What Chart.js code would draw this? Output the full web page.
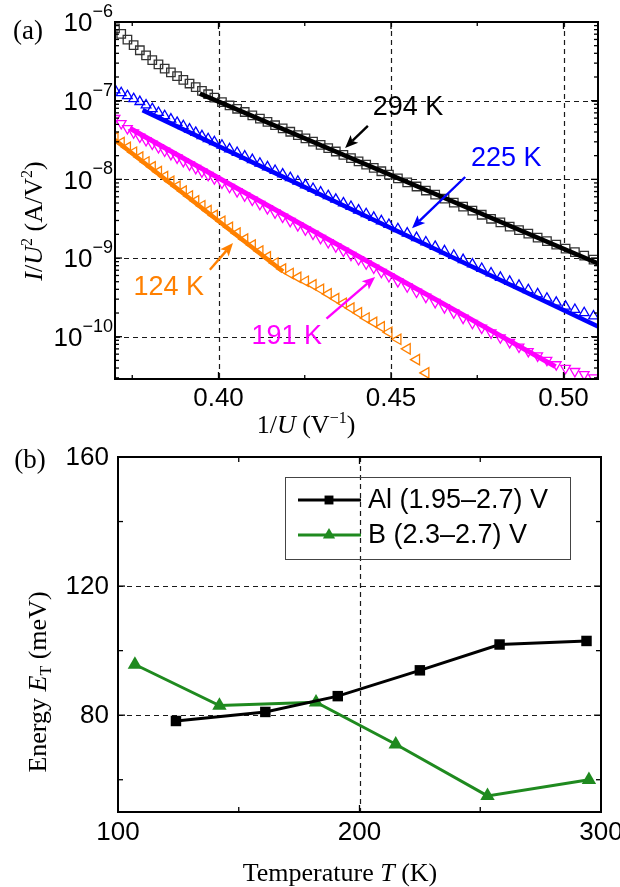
<!DOCTYPE html>
<html>
<head>
<meta charset="utf-8">
<script src="https://cdn.jsdelivr.net/npm/chart.js@4.4.1/dist/chart.umd.min.js"></script>
<style>
  html, body { margin: 0; padding: 0; background: #fff; }
  #wrap { position: relative; width: 620px; height: 887px; }
  canvas { position: absolute; left: 0; }
  #fnA { top: 0; }
  #fnB { top: 445px; }
</style>
</head>
<body>
<div id="wrap">
  <canvas id="fnA" width="620" height="445"></canvas>
  <canvas id="fnB" width="620" height="442"></canvas>
</div>
<script>
const SANS = '"Liberation Sans", Arial, sans-serif';
const SERIF = '"Liberation Serif", "Times New Roman", serif';

// 1/U (V^-1), shared by the four temperature sweeps
const invU = [
  0.3700, 0.3718, 0.3736, 0.3754, 0.3772, 0.3790, 0.3808, 0.3826, 0.3844, 0.3862, 0.3880, 0.3898, 0.3916, 0.3934, 0.3952, 0.3970, 0.3988,
  0.4010, 0.4032, 0.4054, 0.4076, 0.4098, 0.4120, 0.4142, 0.4164, 0.4186, 0.4208, 0.4230, 0.4252, 0.4274, 0.4296, 0.4318, 0.4340, 0.4362, 0.4384, 0.4406, 0.4428, 0.4450, 0.4472, 0.4494,
  0.4520, 0.4547, 0.4574, 0.4601, 0.4628, 0.4655, 0.4682, 0.4709, 0.4736, 0.4763, 0.4790, 0.4817, 0.4844, 0.4871, 0.4898, 0.4925, 0.4952, 0.4979, 0.5006, 0.5033, 0.5060, 0.5087
];
// log10(I/U^2), I/U^2 in A/V^2
const lg294 = [
  -6.080, -6.152, -6.224, -6.294, -6.359, -6.424, -6.484, -6.538, -6.592, -6.641, -6.688, -6.735, -6.782, -6.828, -6.875, -6.918, -6.961,
  -7.019, -7.061, -7.103, -7.144, -7.186, -7.228, -7.270, -7.312, -7.353, -7.395, -7.437, -7.479, -7.521, -7.562, -7.604, -7.646, -7.688, -7.730, -7.771, -7.813, -7.855, -7.897, -7.939,
  -7.988, -8.039, -8.091, -8.142, -8.193, -8.245, -8.296, -8.347, -8.398, -8.450, -8.501, -8.547, -8.600, -8.645, -8.690, -8.740, -8.785, -8.830, -8.880, -8.925, -8.970, -9.020
];
const lg225 = [
  -6.864, -6.901, -6.938, -6.976, -7.013, -7.056, -7.103, -7.151, -7.193, -7.236, -7.278, -7.320, -7.363, -7.405, -7.448, -7.485, -7.523,
  -7.568, -7.614, -7.660, -7.706, -7.751, -7.797, -7.843, -7.889, -7.934, -7.980, -8.026, -8.072, -8.118, -8.163, -8.209, -8.255, -8.301, -8.346, -8.392, -8.438, -8.484, -8.529, -8.575,
  -8.629, -8.685, -8.742, -8.798, -8.854, -8.910, -8.966, -9.022, -9.078, -9.135, -9.191, -9.247, -9.298, -9.349, -9.405, -9.457, -9.513, -9.564, -9.615, -9.656, -9.697, -9.739
];
const lg191 = [
  -7.224, -7.289, -7.353, -7.407, -7.461, -7.505, -7.550, -7.594, -7.638, -7.682, -7.726, -7.771, -7.815, -7.859, -7.903, -7.947, -7.991,
  -8.045, -8.099, -8.154, -8.208, -8.262, -8.316, -8.370, -8.424, -8.478, -8.532, -8.586, -8.640, -8.694, -8.748, -8.802, -8.856, -8.910, -8.964, -9.018, -9.072, -9.126, -9.180, -9.234,
  -9.298, -9.364, -9.430, -9.496, -9.563, -9.629, -9.695, -9.762, -9.828, -9.889, -9.950, -10.012, -10.071, -10.129, -10.186, -10.242, -10.298, -10.354, -10.400, -10.440, -10.480, -10.520
];
const lg124 = [
  -7.470, -7.532, -7.593, -7.655, -7.717, -7.779, -7.841, -7.902, -7.964, -8.026, -8.088, -8.149, -8.211, -8.273, -8.335, -8.397, -8.458,
  -8.533, -8.609, -8.684, -8.760, -8.835, -8.911, -8.986, -9.063, -9.140, -9.196, -9.246, -9.295, -9.342, -9.397, -9.456, -9.516, -9.575, -9.636, -9.697, -9.762, -9.818, -9.875, -9.943,
  -10.033, -10.154, -10.292, -10.460
];
// straight-line fits: end points (1/U, log10 I/U^2)
const fit294X = [0.3946, 0.5100], fit294Lg = [-6.91, -9.07];
const fit225X = [0.3780, 0.5100], fit225Lg = [-7.12, -9.87];
const fit191X = [0.3743, 0.4977], fit191Lg = [-7.35, -10.38];
const fit124X = [0.3700, 0.4187], fit124Lg = [-7.50, -9.17];

// trap energy vs temperature
const tempAl = [124, 161, 191, 225, 258, 294];
const energyAl = [78.2, 81.0, 85.9, 93.9, 101.9, 103.0];
const tempB = [107, 142, 182, 215, 253, 295];
const energyB = [95.7, 83.0, 84.0, 71.0, 55.0, 60.0];
const seriesNames = ['Al (1.95\u20132.7) V', 'B (2.3\u20132.7) V'];

const C294 = '#000000', C225 = '#0000ff', C191 = '#ff00ff', C124 = '#ff8000';
const GREEN = '#1f8a1f';

// temperature labels with arrows, placed in data units
const notes = [
  { text: '294 K', color: C294, at: [0.4549, -7.09], from: [0.4433, -7.32], to: [0.4367, -7.60] },
  { text: '225 K', color: C225, at: [0.4834, -7.74], from: [0.4715, -7.97], to: [0.4561, -8.62] },
  { text: '191 K', color: C191, at: [0.4198, -10.00], from: [0.4313, -9.77], to: [0.4454, -9.24] },
  { text: '124 K', color: C124, at: [0.3856, -9.37], from: [0.3975, -9.15], to: [0.4042, -8.81] }
];

const toPts = (xs, lgs) => lgs.map((v, i) => ({ x: xs[i], y: Math.pow(10, v) }));

// ---------- helpers ----------
function fontOf(s, size) {
  const sz = (s.sup || s.sub) ? Math.round(size * 0.62) : size;
  return (s.it ? 'italic ' : '') + sz + 'px ' + SERIF;
}
function drawRich(ctx, segs, cx, cy, size, angle) {
  ctx.save();
  ctx.translate(cx, cy);
  ctx.rotate(angle || 0);
  ctx.fillStyle = '#000';
  ctx.textAlign = 'left';
  ctx.textBaseline = 'alphabetic';
  let total = 0;
  for (const s of segs) { ctx.font = fontOf(s, size); total += ctx.measureText(s.t).width; }
  let x = -total / 2;
  for (const s of segs) {
    ctx.font = fontOf(s, size);
    const dy = s.sup ? -size * 0.36 : s.sub ? size * 0.2 : 0;
    ctx.fillText(s.t, x, size * 0.33 + dy);
    x += ctx.measureText(s.t).width;
  }
  ctx.restore();
}
function seg(ctx, x1, y1, x2, y2) {
  ctx.beginPath(); ctx.moveTo(x1, y1); ctx.lineTo(x2, y2); ctx.stroke();
}
function arrow(ctx, x1, y1, x2, y2, color) {
  const ang = Math.atan2(y2 - y1, x2 - x1), head = 13, half = 5.5;
  const bx = x2 - head * Math.cos(ang), by = y2 - head * Math.sin(ang);
  ctx.strokeStyle = color; ctx.fillStyle = color; ctx.lineWidth = 2.4;
  seg(ctx, x1, y1, bx + 3 * Math.cos(ang), by + 3 * Math.sin(ang));
  ctx.beginPath();
  ctx.moveTo(x2, y2);
  ctx.lineTo(bx - half * Math.sin(ang), by + half * Math.cos(ang));
  ctx.lineTo(bx + 3 * Math.cos(ang), by + 3 * Math.sin(ang));
  ctx.lineTo(bx + half * Math.sin(ang), by - half * Math.cos(ang));
  ctx.closePath();
  ctx.fill();
}
function dashed(ctx) {
  ctx.strokeStyle = '#1a1a1a'; ctx.lineWidth = 1.2; ctx.setLineDash([5, 4]);
}
function solid(ctx) {
  ctx.setLineDash([]); ctx.strokeStyle = '#000'; ctx.lineWidth = 1.3;
}

// ---------- panel (a) ----------
const frameA = {
  id: 'frameA',
  beforeDatasetsDraw(chart) {
    const { ctx, chartArea: a, scales: { x, y } } = chart;
    ctx.save();
    dashed(ctx);
    for (const v of [0.40, 0.45, 0.50]) {
      const px = Math.round(x.getPixelForValue(v)) + 0.5;
      seg(ctx, px, a.top, px, a.bottom);
    }
    for (let e = -10; e <= -7; e++) {
      const py = Math.round(y.getPixelForValue(Math.pow(10, e))) + 0.5;
      seg(ctx, a.left, py, a.right, py);
    }
    ctx.restore();
  },
  afterDatasetsDraw(chart) {
    const { ctx, chartArea: a, scales: { x, y } } = chart;
    ctx.save();
    solid(ctx);
    // ticks, pointing inward on all four sides
    for (const v of [0.375, 0.40, 0.425, 0.45, 0.475, 0.50]) {
      const px = x.getPixelForValue(v);
      const len = [0.40, 0.45, 0.50].includes(v) ? 7 : 4;
      seg(ctx, px, a.bottom, px, a.bottom - len);
      seg(ctx, px, a.top, px, a.top + len);
    }
    for (let e = -11; e <= -7; e++) {
      for (let m = 1; m <= 9; m++) {
        const v = m * Math.pow(10, e);
        if (v < y.min || v > y.max) continue;
        const py = y.getPixelForValue(v);
        const len = m === 1 ? 7 : 4;
        seg(ctx, a.left, py, a.left + len, py);
        seg(ctx, a.right, py, a.right - len, py);
      }
    }
    ctx.lineWidth = 2;
    ctx.strokeRect(a.left, a.top, a.width, a.height);

    // tick labels
    ctx.fillStyle = '#000';
    ctx.textBaseline = 'middle';
    ctx.textAlign = 'center';
    ctx.font = '26px ' + SANS;
    for (const v of [0.40, 0.45, 0.50]) {
      ctx.fillText(v.toFixed(2), x.getPixelForValue(v), a.bottom + 20);
    }
    ctx.textAlign = 'left';
    for (let e = -10; e <= -6; e++) {
      const py = y.getPixelForValue(Math.pow(10, e));
      const ex = '\u2212' + (-e);
      ctx.font = '18px ' + SANS;
      const wE = ctx.measureText(ex).width;
      ctx.font = '26px ' + SANS;
      const wB = ctx.measureText('10').width;
      const right = a.left - 2;
      ctx.fillText('10', right - wE - wB, py + 2);
      ctx.font = '18px ' + SANS;
      ctx.fillText(ex, right - wE, py - 10);
    }

    // axis titles
    drawRich(ctx, [{ t: '1/' }, { t: 'U', it: true }, { t: ' (V' }, { t: '\u22121', sup: true }, { t: ')' }],
      306, a.bottom + 45, 26, 0);
    drawRich(ctx, [{ t: 'I', it: true }, { t: '/' }, { t: 'U', it: true }, { t: '2', sup: true },
      { t: ' (A/V' }, { t: '2', sup: true }, { t: ')' }], 33, 221, 26, -Math.PI / 2);
    drawRich(ctx, [{ t: '(a)' }], 28, 30, 27, 0);

    // temperature labels
    ctx.font = '27px ' + SANS;
    ctx.textAlign = 'center';
    ctx.textBaseline = 'middle';
    for (const n of notes) {
      const px = (p) => [x.getPixelForValue(p[0]), y.getPixelForValue(Math.pow(10, p[1]))];
      const [tx, ty] = px(n.at), [fx, fy] = px(n.from), [hx, hy] = px(n.to);
      ctx.fillStyle = n.color;
      ctx.fillText(n.text, tx, ty);
      arrow(ctx, fx, fy, hx, hy, n.color);
    }
    ctx.restore();
  }
};

const markerSet = (lgs, color, style, rot, r) => ({
  data: toPts(invU, lgs),
  showLine: false,
  pointStyle: style,
  pointRotation: rot,
  pointRadius: r,
  pointBorderWidth: 1.3,
  pointBorderColor: color,
  pointBackgroundColor: 'rgba(0,0,0,0)',
  order: 2
});
const fitSet = (xs, lgs, color, w) => ({
  data: toPts(xs, lgs),
  showLine: true,
  borderColor: color,
  borderWidth: w,
  pointRadius: 0,
  order: 1
});

new Chart(document.getElementById('fnA'), {
  type: 'scatter',
  data: {
    datasets: [
      markerSet(lg294, '#333', 'rect', 0, 6),
      markerSet(lg225, C225, 'triangle', 0, 5.6),
      markerSet(lg191, C191, 'triangle', 180, 5.6),
      markerSet(lg124, C124, 'triangle', -90, 6),
      fitSet(fit294X, fit294Lg, C294, 4.5),
      fitSet(fit225X, fit225Lg, C225, 4.5),
      fitSet(fit191X, fit191Lg, C191, 5),
      fitSet(fit124X, fit124Lg, C124, 4.5)
    ]
  },
  options: {
    responsive: false,
    animation: false,
    events: [],
    layout: { padding: { top: 22, right: 22, left: 0, bottom: 0 } },
    plugins: { legend: { display: false }, tooltip: { enabled: false } },
    scales: {
      x: {
        type: 'linear', min: 0.37, max: 0.51,
        ticks: { display: false }, grid: { display: false }, border: { display: false },
        afterFit: (s) => { s.height = 66; }
      },
      y: {
        type: 'logarithmic', min: 2.9e-11, max: 1e-6,
        ticks: { display: false }, grid: { display: false }, border: { display: false },
        afterFit: (s) => { s.width = 115; }
      }
    }
  },
  plugins: [frameA]
});

// ---------- panel (b) ----------
const frameB = {
  id: 'frameB',
  beforeDatasetsDraw(chart) {
    const { ctx, chartArea: a, scales: { x, y } } = chart;
    ctx.save();
    dashed(ctx);
    const px = Math.round(x.getPixelForValue(200)) + 0.5;
    seg(ctx, px, a.top, px, a.bottom);
    for (const v of [80, 120]) {
      const py = Math.round(y.getPixelForValue(v)) + 0.5;
      seg(ctx, a.left, py, a.right, py);
    }
    ctx.restore();
  },
  afterDatasetsDraw(chart) {
    const { ctx, chartArea: a, scales: { x, y } } = chart;
    const sets = chart.data.datasets;
    ctx.save();
    solid(ctx);
    for (const v of [150, 200, 250]) {
      const px = x.getPixelForValue(v);
      const len = v === 200 ? 7 : 5;
      seg(ctx, px, a.bottom, px, a.bottom - len);
      seg(ctx, px, a.top, px, a.top + len);
    }
    for (const v of [60, 80, 100, 120, 140]) {
      const py = y.getPixelForValue(v);
      const len = v % 40 === 0 ? 7 : 5;
      seg(ctx, a.left, py, a.left + len, py);
      seg(ctx, a.right, py, a.right - len, py);
    }
    ctx.lineWidth = 2;
    ctx.strokeRect(a.left, a.top, a.width, a.height);

    ctx.fillStyle = '#000';
    ctx.font = '26px ' + SANS;
    ctx.textBaseline = 'middle';
    ctx.textAlign = 'center';
    for (const v of [100, 200, 300]) ctx.fillText(String(v), x.getPixelForValue(v), a.bottom + 21);
    ctx.textAlign = 'right';
    for (const v of [80, 120, 160]) ctx.fillText(String(v), a.left - 9, y.getPixelForValue(v) + 1);

    drawRich(ctx, [{ t: 'Temperature ' }, { t: 'T', it: true }, { t: ' (K)' }], 340, a.bottom + 60, 26, 0);
    drawRich(ctx, [{ t: 'Energy ' }, { t: 'E', it: true }, { t: 'T', sub: true }, { t: ' (meV)' }],
      37, 682 - 445, 26, -Math.PI / 2);
    drawRich(ctx, [{ t: '(b)' }], 30, 14, 27, 0);

    // legend box inside the plot
    const bx = a.left + 167, by = a.top + 20, bw = 285, bh = 82;
    ctx.lineWidth = 1;
    ctx.strokeStyle = '#444';
    ctx.strokeRect(bx + 0.5, by + 0.5, bw, bh);
    ctx.font = '27px ' + SANS;
    ctx.textAlign = 'left';
    ctx.textBaseline = 'middle';
    sets.forEach((d, i) => {
      const ry = by + 23 + i * 35;
      ctx.strokeStyle = d.borderColor;
      ctx.lineWidth = d.borderWidth;
      seg(ctx, bx + 13, ry, bx + 76, ry);
      ctx.fillStyle = d.pointBackgroundColor;
      Chart.helpers.drawPoint(ctx, { pointStyle: d.pointStyle, radius: d.pointRadius * 0.85, rotation: 0, borderWidth: 0 }, bx + 44, ry);
      ctx.fillStyle = '#000';
      ctx.fillText(seriesNames[i], bx + 83, ry + 1);
    });
    ctx.restore();
  }
};

new Chart(document.getElementById('fnB'), {
  type: 'scatter',
  data: {
    datasets: [
      {
        label: seriesNames[0],
        data: tempAl.map((t, i) => ({ x: t, y: energyAl[i] })),
        showLine: true,
        borderColor: '#000',
        borderWidth: 3,
        pointStyle: 'rect',
        pointRadius: 7.4,
        pointBorderWidth: 0,
        pointBackgroundColor: '#000'
      },
      {
        label: seriesNames[1],
        data: tempB.map((t, i) => ({ x: t, y: energyB[i] })),
        showLine: true,
        borderColor: GREEN,
        borderWidth: 3,
        pointStyle: 'triangle',
        pointRadius: 8.3,
        pointBorderWidth: 0,
        pointBackgroundColor: GREEN
      }
    ]
  },
  options: {
    responsive: false,
    animation: false,
    events: [],
    layout: { padding: { top: 12, right: 19, left: 0, bottom: 0 } },
    plugins: { legend: { display: false }, tooltip: { enabled: false } },
    scales: {
      x: {
        type: 'linear', min: 100, max: 300,
        ticks: { display: false }, grid: { display: false }, border: { display: false },
        afterFit: (s) => { s.height = 75; }
      },
      y: {
        type: 'linear', min: 50, max: 160,
        ticks: { display: false }, grid: { display: false }, border: { display: false },
        afterFit: (s) => { s.width = 118; }
      }
    }
  },
  plugins: [frameB]
});
</script>
</body>
</html>
